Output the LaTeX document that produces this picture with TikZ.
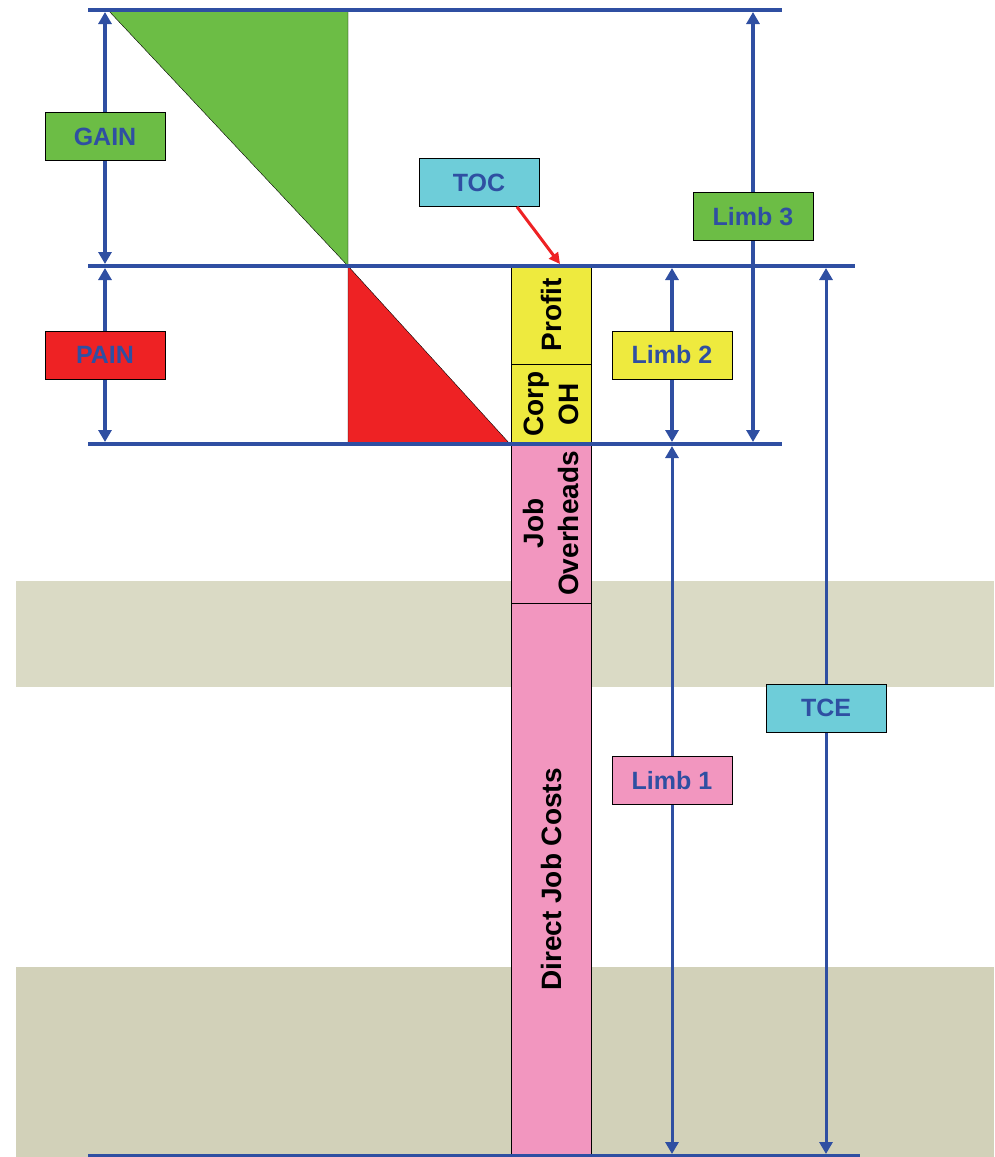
\documentclass[tikz,border=0pt]{standalone}
\usepackage{fontspec}
\setmainfont{Liberation Sans}
\usepackage{xcolor}
\usetikzlibrary{positioning,arrows.meta}
\definecolor{lineblue}{HTML}{2F4FA2}
\definecolor{gaingreen}{HTML}{6CBD45}
\definecolor{painred}{HTML}{EE2224}
\definecolor{profityellow}{HTML}{EEEA3E}
\definecolor{costpink}{HTML}{F296BF}
\definecolor{toccyan}{HTML}{6ECDD9}
\definecolor{bandlight}{HTML}{DADAC5}
\definecolor{banddark}{HTML}{D2D1B9}

\begin{document}
\begin{tikzpicture}[x=1pt,y=-1pt,
    labelbox/.style={draw=black,semithick,minimum width=120pt,minimum height=48pt,inner sep=0pt,
      text=lineblue,font=\fontsize{25}{30}\selectfont\bfseries},
    coltext/.style={rotate=90,align=center,inner sep=0pt,font=\fontsize{28}{35}\selectfont\bfseries},
    rule/.style={lineblue,line width=4pt},
    dim/.style={lineblue,line width=3.5pt,{Triangle[width=13pt,length=12pt]}-{Triangle[width=13pt,length=12pt]}},
    longdim/.style={dim,line width=3pt}]
    \useasboundingbox (0,0) rectangle (994,1157);
    % background bands
    \fill[bandlight] (16,581) rectangle (994,687);
    \fill[banddark] (16,967) rectangle (994,1157);
    % triangles
    \draw[fill=gaingreen] (108,10) -- (348,10) -- (348,266) -- cycle;
    \draw[fill=painred] (348,266) -- (348,444) -- (510,444) -- cycle;
    % cost column
    \draw[fill=profityellow] (511,266) rectangle node[coltext] (profit) {Profit} (591,364);
    \draw[fill=profityellow] (511,364) rectangle node[coltext] (corp) {Corp\\OH} (591,444);
    \draw[fill=costpink] (511,444) rectangle node[coltext] (jobo) {Job\\Overheads} (591,603);
    \draw[fill=costpink] (511,603) rectangle node[coltext] (direct) {Direct Job Costs} (591,1156);
    % level lines
    \draw[rule] (88,10) -- (782,10);
    \draw[rule] (88,266) -- (855,266);
    \draw[rule] (88,444) -- (782,444);
    \draw[rule] (88,1156) -- (860,1156);
    % dimension arrows
    \draw[dim] (105,12) -- node[labelbox,fill=gaingreen,pos=0.495] (gain) {GAIN} (105,264);
    \draw[dim] (105,268) -- node[labelbox,fill=painred] (pain) {PAIN} (105,442);
    \draw[dim] (753,12) -- node[labelbox,fill=gaingreen,pos=0.475] (limbc) {Limb 3} (753,442);
    \draw[dim] (672,268) -- node[labelbox,fill=profityellow] (limbb) {Limb 2} (672,442);
    \draw[longdim] (672,446) -- node[labelbox,fill=costpink,pos=0.472] (limba) {Limb 1} (672,1154);
    \draw[longdim] (826,268) -- node[labelbox,fill=toccyan,pos=0.497] (tce) {TCE} (826,1154);
    % TOC pointer
    \node[labelbox,fill=toccyan] (toc) at (479,182.5) {TOC};
    \coordinate (tocend) at (560,264);
    \draw[painred,line width=3pt,-{Triangle[width=11pt,length=11pt]}] ([xshift=38pt]toc.south) -- (tocend);
\end{tikzpicture}
\end{document}
